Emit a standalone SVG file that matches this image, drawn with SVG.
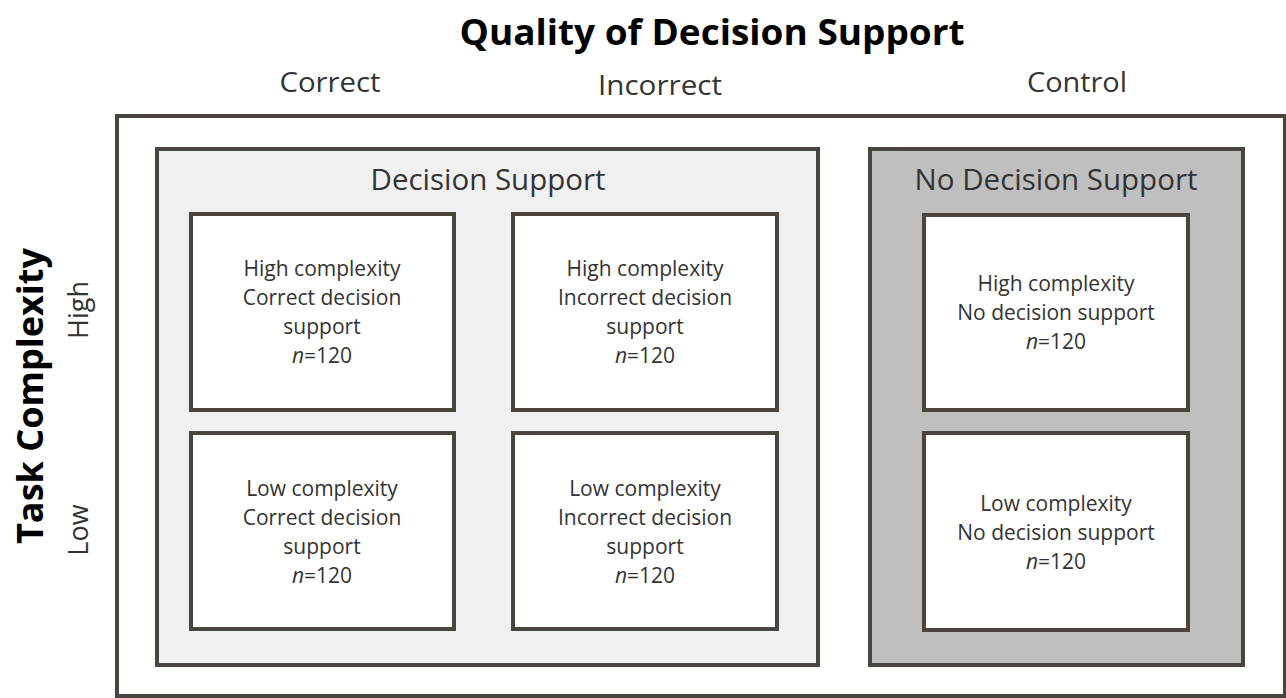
<svg xmlns="http://www.w3.org/2000/svg" width="1286" height="698" viewBox="0 0 1286 698">
<style>
.box{stroke:#4a443f;stroke-width:4}
.t{font-family:"Open Sans","Liberation Sans",sans-serif;fill:#333;text-anchor:middle}
.b{font-weight:bold;fill:#000}
.cell{font-size:21px}
.hdr{font-size:28px}
.grp{font-size:29px}
</style>
<rect width="1286" height="698" fill="#fff"/>
<g id="frame">
<rect class="box" x="117" y="116" width="1168" height="580" fill="#fff"/>
</g>
<g id="titles">
<text class="t b" x="712" y="45" font-size="36" textLength="505" lengthAdjust="spacingAndGlyphs">Quality of Decision Support</text>
<text class="t hdr" x="330" y="92" textLength="101" lengthAdjust="spacingAndGlyphs">Correct</text>
<text class="t hdr" x="660" y="95" textLength="124" lengthAdjust="spacingAndGlyphs">Incorrect</text>
<text class="t hdr" x="1077" y="92" textLength="100" lengthAdjust="spacingAndGlyphs">Control</text>
<text class="t b" transform="translate(43,396) rotate(-90)" font-size="36" textLength="296" lengthAdjust="spacingAndGlyphs">Task Complexity</text>
<text class="t" transform="translate(88,310) rotate(-90)" font-size="27">High</text>
<text class="t" transform="translate(88,530) rotate(-90)" font-size="27">Low</text>
</g>
<g id="decision-support">
<rect class="box" x="157" y="149" width="661" height="516" fill="#f0f0f0"/>
<text class="t grp" x="488" y="190" textLength="235" lengthAdjust="spacingAndGlyphs">Decision Support</text>
</g>
<g id="no-decision-support">
<rect class="box" x="870" y="149" width="373" height="516" fill="#bfbfbf"/>
<text class="t grp" x="1056" y="190" textLength="283" lengthAdjust="spacingAndGlyphs">No Decision Support</text>
</g>
<g id="high-correct">
<rect class="box" x="191" y="214" width="263" height="196" fill="#fff"/>
<text class="t cell" x="322" y="276">High complexity</text>
<text class="t cell" x="322" y="305">Correct decision</text>
<text class="t cell" x="322" y="334">support</text>
<text class="t cell" x="322" y="363"><tspan font-style="italic">n</tspan>=120</text>
</g>
<g id="high-incorrect">
<rect class="box" x="513" y="214" width="264" height="196" fill="#fff"/>
<text class="t cell" x="645" y="276">High complexity</text>
<text class="t cell" x="645" y="305">Incorrect decision</text>
<text class="t cell" x="645" y="334">support</text>
<text class="t cell" x="645" y="363"><tspan font-style="italic">n</tspan>=120</text>
</g>
<g id="high-none">
<rect class="box" x="924" y="215" width="264" height="195" fill="#fff"/>
<text class="t cell" x="1056" y="291">High complexity</text>
<text class="t cell" x="1056" y="320">No decision support</text>
<text class="t cell" x="1056" y="349"><tspan font-style="italic">n</tspan>=120</text>
</g>
<g id="low-correct">
<rect class="box" x="191" y="433" width="263" height="196" fill="#fff"/>
<text class="t cell" x="322" y="496">Low complexity</text>
<text class="t cell" x="322" y="525">Correct decision</text>
<text class="t cell" x="322" y="554">support</text>
<text class="t cell" x="322" y="583"><tspan font-style="italic">n</tspan>=120</text>
</g>
<g id="low-incorrect">
<rect class="box" x="513" y="433" width="264" height="196" fill="#fff"/>
<text class="t cell" x="645" y="496">Low complexity</text>
<text class="t cell" x="645" y="525">Incorrect decision</text>
<text class="t cell" x="645" y="554">support</text>
<text class="t cell" x="645" y="583"><tspan font-style="italic">n</tspan>=120</text>
</g>
<g id="low-none">
<rect class="box" x="924" y="433" width="264" height="197" fill="#fff"/>
<text class="t cell" x="1056" y="511">Low complexity</text>
<text class="t cell" x="1056" y="540">No decision support</text>
<text class="t cell" x="1056" y="569"><tspan font-style="italic">n</tspan>=120</text>
</g>
<g id="connectors"></g>
</svg>
